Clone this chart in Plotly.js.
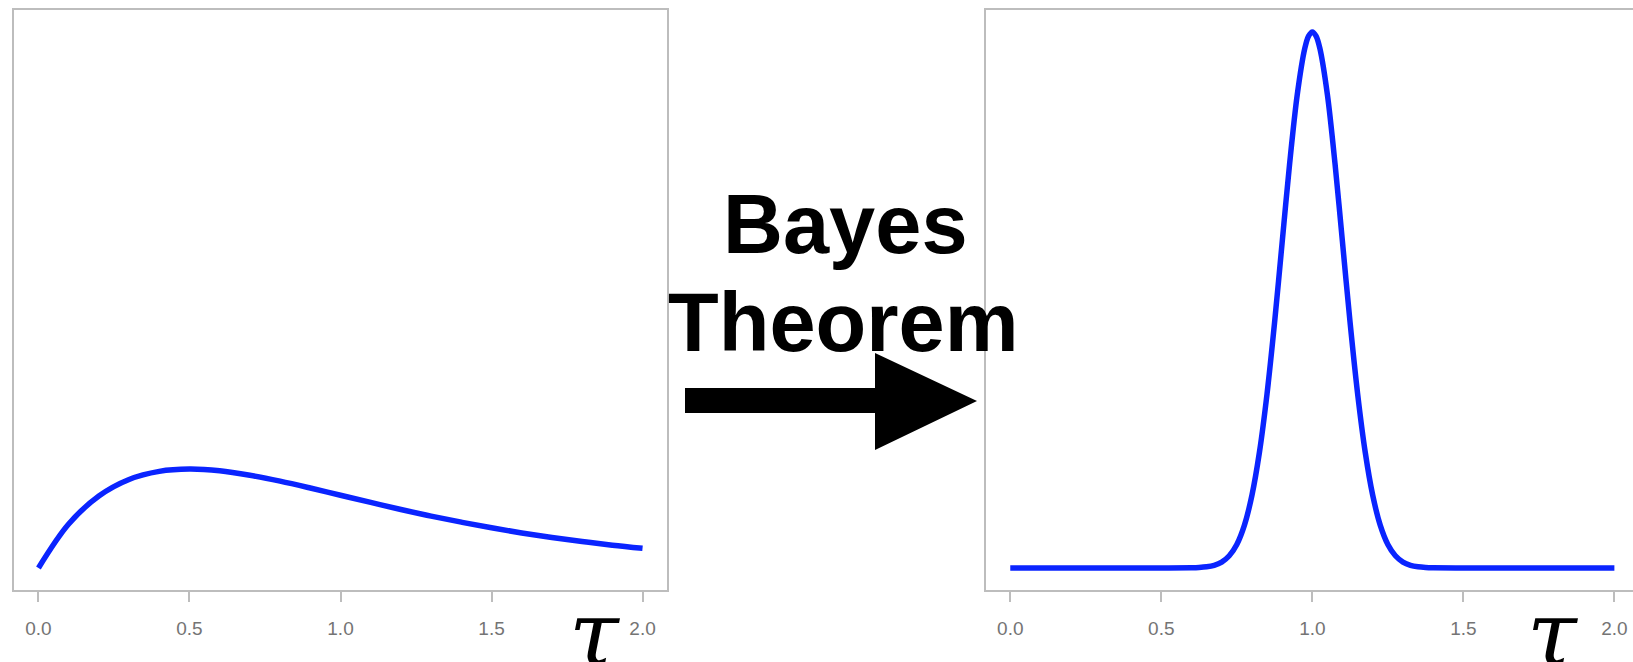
<!DOCTYPE html>
<html>
<head>
<meta charset="utf-8">
<script src="https://cdn.plot.ly/plotly-3.0.1.min.js"></script>
<style>
  html, body { margin: 0; padding: 0; background: #ffffff; }
  #chart { width: 1633px; height: 662px; }
</style>
</head>
<body>
<div id="chart"></div>
<script>
// ---- data ----
const priorTau = [0, 0.1, 0.2, 0.3, 0.4, 0.5, 0.6, 0.7, 0.8, 0.9, 1.0,
                  1.1, 1.2, 1.3, 1.4, 1.5, 1.6, 1.7, 1.8, 1.9, 2.0];
const priorDensity = [0, 0.327, 0.536, 0.659, 0.719, 0.736, 0.723, 0.690, 0.646, 0.595, 0.541,
                      0.488, 0.435, 0.386, 0.341, 0.299, 0.261, 0.227, 0.197, 0.170, 0.147];

const postTau = [0, 0.25, 0.5, 0.6, 0.625, 0.65, 0.675, 0.7, 0.725, 0.75, 0.775, 0.8, 0.825,
                 0.85, 0.875, 0.9, 0.925, 0.95, 0.975, 0.9875, 1.0, 1.0125, 1.025, 1.05, 1.075, 1.1, 1.125,
                 1.15, 1.175, 1.2, 1.225, 1.25, 1.275, 1.3, 1.325, 1.35, 1.375, 1.4, 1.5, 1.75, 2.0];
const postDensity = [0, 0, 0, 0.0013, 0.0035, 0.0087, 0.020, 0.044, 0.091, 0.175, 0.317, 0.540, 0.863,
                     1.295, 1.826, 2.420, 3.011, 3.520, 3.866, 3.958, 3.989, 3.958, 3.866, 3.520, 3.011, 2.420, 1.826,
                     1.295, 0.863, 0.540, 0.317, 0.175, 0.091, 0.044, 0.020, 0.0087, 0.0035, 0.0013, 0, 0, 0];

const tickVals = [0, 0.5, 1.0, 1.5, 2.0];
const tickText = ['0.0', '0.5', '1.0', '1.5', '2.0'];

const middleLines = ['Bayes', 'Theorem'];
const axisSymbol = 'τ';

// ---- page geometry (pixels) ----
const W = 1633, H = 662;
const px = v => v / W;
const py = v => 1 - v / H;

const lineColor = '#0a24ff';
const frameColor = '#bdbdbd';
const yRange = [-0.16, 4.149];

function xAxisCfg(domain, range) {
  return {
    domain: domain, range: range, showgrid: false, zeroline: false,
    showline: true, linecolor: frameColor, linewidth: 2.5, mirror: true,
    ticks: 'outside', ticklen: 10, tickwidth: 2, tickcolor: frameColor,
    tickmode: 'array', tickvals: tickVals, ticktext: tickText,
    ticklabelstandoff: 10,
    tickfont: { family: 'Liberation Sans, Arial, sans-serif', size: 19, color: '#747474' },
    fixedrange: true
  };
}
function yAxisCfg(anchor, mirror) {
  return {
    anchor: anchor, domain: [py(589.5), py(10.4)], range: yRange,
    showgrid: false, zeroline: false, showticklabels: false, ticks: '',
    showline: true, linecolor: frameColor, linewidth: 2.5, mirror: mirror,
    fixedrange: true
  };
}

const traces = [
  { x: priorTau, y: priorDensity, type: 'scatter', mode: 'lines', xaxis: 'x', yaxis: 'y',
    line: { color: lineColor, width: 5.5, shape: 'spline', smoothing: 1 }, hoverinfo: 'skip' },
  { x: postTau, y: postDensity, type: 'scatter', mode: 'lines', xaxis: 'x2', yaxis: 'y2',
    line: { color: lineColor, width: 5.5, shape: 'spline', smoothing: 0.9 }, hoverinfo: 'skip' }
];

const arrowPts = [[685, 388], [875, 388], [875, 353], [977, 401], [875, 450], [875, 413], [685, 413]];
const arrowPath = 'M ' + arrowPts.map(p => px(p[0]) + ',' + py(p[1])).join(' L ') + ' Z';

const layout = {
  width: W, height: H,
  margin: { l: 0, r: 0, t: 0, b: 0, pad: 0 },
  paper_bgcolor: '#ffffff', plot_bgcolor: '#ffffff',
  showlegend: false,
  xaxis: xAxisCfg([px(14.3), px(666.7)], [-0.08, 2.08]),
  yaxis: yAxisCfg('x', true),
  xaxis2: Object.assign(xAxisCfg([px(986.1), 1], [-0.08, 2.0616]), { anchor: 'y2' }),
  yaxis2: yAxisCfg('x2', false),
  shapes: [
    { type: 'path', xref: 'paper', yref: 'paper', path: arrowPath,
      fillcolor: '#000000', line: { width: 0 }, layer: 'above' }
  ],
  annotations: [
    { xref: 'paper', yref: 'paper', x: px(845), y: py(224), xanchor: 'center', yanchor: 'middle',
      text: middleLines[0], showarrow: false,
      font: { family: 'Liberation Sans, Arial, sans-serif', size: 83, color: '#000000', weight: 'bold' } },
    { xref: 'paper', yref: 'paper', x: px(843), y: py(322), xanchor: 'center', yanchor: 'middle',
      text: middleLines[1], showarrow: false,
      font: { family: 'Liberation Sans, Arial, sans-serif', size: 83, color: '#000000', weight: 'bold' } },
    { xref: 'paper', yref: 'paper', x: px(594), y: py(633), xanchor: 'center', yanchor: 'middle',
      text: '<i>' + axisSymbol + '</i>', showarrow: false,
      font: { family: 'DejaVu Serif, serif', size: 90, color: '#000000' } },
    { xref: 'paper', yref: 'paper', x: px(1552), y: py(633), xanchor: 'center', yanchor: 'middle',
      text: '<i>' + axisSymbol + '</i>', showarrow: false,
      font: { family: 'DejaVu Serif, serif', size: 90, color: '#000000' } }
  ]
};

Plotly.newPlot('chart', traces, layout, { displayModeBar: false, staticPlot: true });
</script>
</body>
</html>
